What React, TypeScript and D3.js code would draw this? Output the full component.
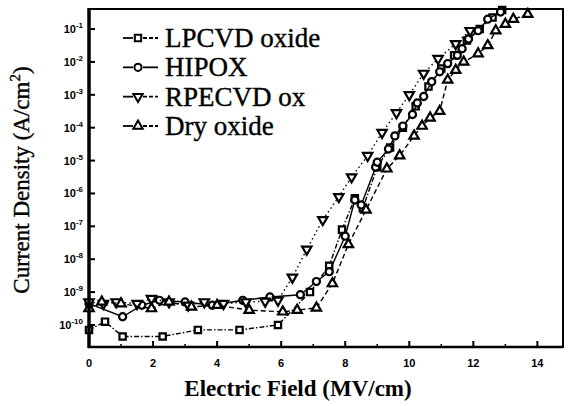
import React, { useRef, useEffect } from "react";
import * as d3 from "d3";

// electric field (MV/cm) and log10 of current density (A/cm^2)
const lpcvdField = [0, 0.5, 1.05, 2.3, 3.4, 4.7, 5.9, 6.9, 7.5, 7.9, 8.3, 8.55, 9.0, 9.4, 9.8, 10.2, 10.6, 11.0, 11.4, 11.8, 12.2, 12.6, 12.9];
const lpcvdLogJ = [-10.15, -9.9, -10.35, -10.35, -10.15, -10.15, -10.0, -9.0, -8.2, -7.1, -6.15, -6.45, -5.2, -4.6, -4.0, -3.35, -2.75, -2.2, -1.8, -1.35, -1.0, -0.65, -0.42];

const hipoxField = [0, 1.05, 1.65, 2.2, 3.0, 3.85, 4.8, 5.65, 6.6, 7.1, 7.5, 8.0, 8.3, 8.5, 8.95, 9.0, 9.35, 9.55, 9.8, 10.1, 10.25, 10.45, 10.7, 10.95, 11.2, 11.5, 11.65, 11.85, 12.15, 12.45, 12.85];
const hipoxLogJ = [-9.35, -9.75, -9.4, -9.25, -9.3, -9.4, -9.25, -9.15, -9.08, -8.68, -8.38, -7.3, -6.2, -6.35, -5.2, -5.05, -4.65, -4.25, -3.95, -3.6, -3.25, -3.05, -2.6, -2.3, -2.05, -1.8, -1.6, -1.3, -1.05, -0.7, -0.48];

const rpecvdField = [0, 0.45, 0.85, 1.5, 1.95, 2.5, 3.1, 3.6, 4.2, 4.9, 5.5, 5.9, 6.35, 6.8, 7.3, 7.8, 8.2, 8.7, 9.15, 9.6, 10.0, 10.45, 10.9, 11.45, 11.9];
const rpecvdLogJ = [-9.3, -9.35, -9.3, -9.35, -9.2, -9.3, -9.4, -9.3, -9.35, -9.3, -9.28, -9.25, -8.55, -7.7, -6.8, -6.1, -5.5, -4.85, -4.15, -3.55, -3.0, -2.35, -1.9, -1.45, -1.05];

const dryField = [0, 0.4, 1.0, 1.95, 2.5, 3.2, 4.0, 5.0, 6.05, 6.5, 7.1, 7.6, 8.1, 8.65, 9.3, 9.7, 10.15, 10.4, 10.65, 10.95, 11.2, 11.45, 11.7, 12.15, 12.45, 12.7, 13.0, 13.25, 13.7];
const dryLogJ = [-9.5, -9.3, -9.35, -9.5, -9.3, -9.45, -9.4, -9.55, -9.6, -9.55, -9.48, -8.74, -7.55, -6.5, -5.25, -4.85, -4.25, -3.95, -3.7, -3.5, -2.55, -2.25, -2.0, -1.75, -1.5, -1.05, -0.85, -0.7, -0.55];

const seriesNames = ["LPCVD oxide", "HIPOX", "RPECVD ox", "Dry oxide"];
const xTicks = [0, 2, 4, 6, 8, 10, 12, 14];
const xMinorTicks = [1, 3, 5, 7, 9, 11, 13];
const yTickExps = [-1, -2, -3, -4, -5, -6, -7, -8, -9, -10];

const W = 569;
const H = 406;

const App = () => {
    const svgRef = useRef<SVGSVGElement>(null);

    useEffect(() => {
        const svg = d3.select(svgRef.current);
        svg.selectAll("*").remove();

        const x = d3.scaleLinear().domain([0, 14.8]).range([89, 563]);
        const y = d3.scaleLinear().domain([-10.67, -0.39]).range([347, 9]);

        const series = [
            { name: seriesNames[0], field: lpcvdField, logJ: lpcvdLogJ, marker: "square", dash: "5,2,1.5,2" },
            { name: seriesNames[1], field: hipoxField, logJ: hipoxLogJ, marker: "circle", dash: null },
            { name: seriesNames[2], field: rpecvdField, logJ: rpecvdLogJ, marker: "down", dash: "1.5,3" },
            { name: seriesNames[3], field: dryField, logJ: dryLogJ, marker: "up", dash: "5,3" },
        ];

        const symbolFor = (m: string) => {
            if (m === "square") return d3.symbol().type(d3.symbolSquare).size(40)();
            if (m === "circle") return d3.symbol().type(d3.symbolCircle).size(40)();
            return d3.symbol().type(d3.symbolTriangle).size(38)();
        };

        const line = d3
            .line<[number, number]>()
            .x((d) => x(d[0]))
            .y((d) => y(d[1]));

        const plot = svg.append("g");

        series.forEach((s) => {
            const pts: [number, number][] = s.field.map((f, i) => [f, s.logJ[i]]);
            plot.append("path")
                .attr("d", line(pts))
                .attr("fill", "none")
                .attr("stroke", "#000")
                .attr("stroke-width", 1.4)
                .attr("stroke-dasharray", s.dash);
            plot.selectAll(null)
                .data(pts)
                .enter()
                .append("path")
                .attr("d", symbolFor(s.marker))
                .attr("transform", (d) => `translate(${x(d[0])},${y(d[1])})${s.marker === "down" ? " rotate(180)" : ""}`)
                .attr("fill", "#fff")
                .attr("stroke", "#000")
                .attr("stroke-width", 2.2);
        });

        // frame
        svg.append("rect")
            .attr("x", 89).attr("y", 9)
            .attr("width", 474).attr("height", 338)
            .attr("fill", "none").attr("stroke", "#000").attr("stroke-width", 2);
        svg.append("line")
            .attr("x1", 89).attr("x2", 89).attr("y1", 8).attr("y2", 348)
            .attr("stroke", "#000").attr("stroke-width", 3.5);
        svg.append("line")
            .attr("x1", 88).attr("x2", 563).attr("y1", 347).attr("y2", 347)
            .attr("stroke", "#000").attr("stroke-width", 2.5);

        // x ticks
        svg.selectAll(null).data(xTicks).enter().append("line")
            .attr("x1", (d) => x(d)).attr("x2", (d) => x(d))
            .attr("y1", 347).attr("y2", 341)
            .attr("stroke", "#000").attr("stroke-width", 2);
        svg.selectAll(null).data(xMinorTicks).enter().append("line")
            .attr("x1", (d) => x(d)).attr("x2", (d) => x(d))
            .attr("y1", 347).attr("y2", 344)
            .attr("stroke", "#000").attr("stroke-width", 1.5);
        svg.selectAll(null).data(xTicks).enter().append("text")
            .attr("x", (d) => x(d)).attr("y", 367)
            .attr("text-anchor", "middle")
            .style("font-family", "'Liberation Sans', Arial, sans-serif")
            .style("font-weight", "bold")
            .style("font-size", "11px")
            .text((d) => d);

        // y ticks
        svg.selectAll(null).data(yTickExps).enter().append("line")
            .attr("x1", 89).attr("x2", 95)
            .attr("y1", (d) => y(d)).attr("y2", (d) => y(d))
            .attr("stroke", "#000").attr("stroke-width", 2);
        const yl = svg.selectAll(null).data(yTickExps).enter().append("text")
            .attr("x", 83).attr("y", (d) => y(d) + 4)
            .attr("text-anchor", "end")
            .style("font-family", "'Liberation Sans', Arial, sans-serif")
            .style("font-weight", "bold")
            .style("font-size", "11px");
        yl.append("tspan").text("10");
        yl.append("tspan")
            .attr("dy", -5)
            .style("font-size", "8px")
            .text((d) => `${d}`);

        // axis titles
        svg.append("text")
            .attr("x", 298).attr("y", 396)
            .attr("text-anchor", "middle")
            .style("font-family", "'Liberation Serif', 'Times New Roman', serif")
            .style("font-weight", "bold")
            .style("font-size", "23px")
            .text("Electric Field (MV/cm)");
        const yt = svg.append("text")
            .attr("transform", "translate(29,180) rotate(-90)")
            .attr("text-anchor", "middle")
            .style("font-family", "'Liberation Serif', 'Times New Roman', serif")
            .style("font-size", "23px")
            .style("stroke", "#000").style("stroke-width", 0.4);
        yt.append("tspan").text("Current Density (A/cm");
        yt.append("tspan").attr("dy", -9).style("font-size", "15px").text("2");
        yt.append("tspan").attr("dy", 9).text(")");

        // legend
        const rowY = d3.scalePoint().domain(seriesNames).range([38, 126]);
        series.forEach((s) => {
            const ly = rowY(s.name) as number;
            svg.append("line")
                .attr("x1", 123).attr("x2", 133).attr("y1", ly).attr("y2", ly)
                .attr("stroke", "#000").attr("stroke-width", 1.8);
            svg.append("line")
                .attr("x1", 143).attr("x2", 158).attr("y1", ly).attr("y2", ly)
                .attr("stroke", "#000").attr("stroke-width", 1.8)
                .attr("stroke-dasharray", s.dash ? "4,2" : null);
            svg.append("path")
                .attr("d", symbolFor(s.marker))
                .attr("transform", `translate(138,${ly})${s.marker === "down" ? " rotate(180)" : ""}`)
                .attr("fill", "#fff").attr("stroke", "#000").attr("stroke-width", 2);
            svg.append("text")
                .attr("x", 165).attr("y", ly + 9)
                .style("font-family", "'Liberation Serif', 'Times New Roman', serif")
                .style("font-size", "27px")
                .style("stroke", "#000").style("stroke-width", 0.4)
                .text(s.name);
        });
    }, []);

    return (
        <svg
            ref={svgRef}
            width={W}
            height={H}
            style={{ position: "absolute", left: 0, top: 0, background: "#fff" }}
        />
    );
};

export default App;
